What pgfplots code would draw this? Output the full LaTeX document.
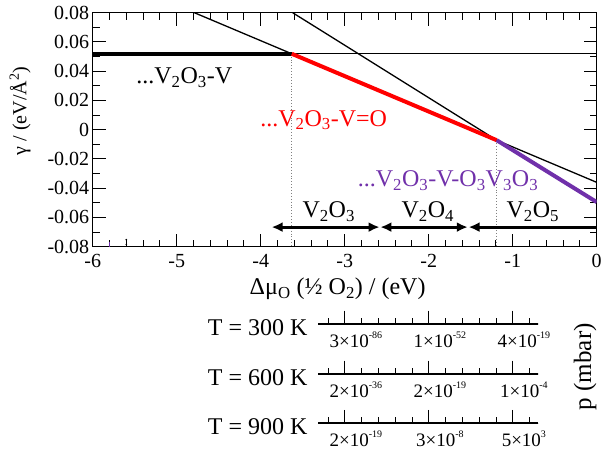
\documentclass[border=0pt]{standalone}
\usepackage{fontspec}
\setmainfont{Liberation Serif}
\usepackage{pgfplots}
\usepackage{pgfplotstable}
\pgfplotsset{compat=1.18}
\usetikzlibrary{arrows.meta}
\definecolor{myred}{RGB}{255,0,0}
\definecolor{mypurple}{RGB}{112,48,170}
\newcommand\ssup[1]{\raisebox{0.5em}{\fontsize{10}{10}\selectfont #1}}
\newcommand\bigf{\fontsize{24}{28}\selectfont}
\pgfplotstableread{
x h
-3.2 6
-3.0 13
-2.8 6
-2.6 6
-2.4 6
-2.2 6
-2.0 13
-1.8 6
-1.6 6
-1.4 6
-1.2 6
-1.0 13
-0.8 6
}\prticks
\begin{document}
\begin{tikzpicture}
\useasboundingbox (-92.7pt,-203.3pt) rectangle (508.3pt,246.7pt);
\begin{axis}[
  at={(0pt,0pt)}, anchor=south west,
  scale only axis, width=504pt, height=234pt,
  xmin=-6, xmax=0, ymin=-0.08, ymax=0.08,
  scaled x ticks=false, scaled y ticks=false,
  xtick={-6,-5,-4,-3,-2,-1,0},
  xticklabels={-6,-5,-4,-3,-2,-1,0},
  minor x tick num=4,
  ytick={-0.08,-0.06,-0.04,-0.02,0,0.02,0.04,0.06,0.08},
  yticklabels={-0.08,-0.06,-0.04,-0.02,0,0.02,0.04,0.06,0.08},
  minor y tick num=1,
  tick align=inside,
  major tick length=13pt, minor tick length=7pt,
  tick style={black, line width=1.1pt},
  axis line style={line width=1.3pt},
  tick label style={font=\fontsize{20}{24}\selectfont},
  x tick label style={yshift=-4pt},
  xlabel={Δμ\textsubscript{O} (½ O\textsubscript{2}) / (eV)},
  ylabel={γ / (eV/Å\textsuperscript{2})},
  xlabel style={font=\bigf, at={(axis description cs:0.486,-0.181)}, anchor=center},
  ylabel style={font=\fontsize{20}{24}\selectfont, at={(axis description cs:-0.144,0.58)}, anchor=center},
]
\addplot[gray, dotted, line width=0.9pt] coordinates {(-3.63,0.0519) (-3.63,-0.08)};
\addplot[gray, dotted, line width=0.9pt] coordinates {(-1.19,-0.0072) (-1.19,-0.08)};
\addplot[black, line width=1.3pt] coordinates {(-3.63,0.0519) (0,0.0519)};
\addplot[black, line width=1.3pt] coordinates {(-4.79,0.08) (0,-0.036)};
\addplot[black, line width=1.3pt] coordinates {(-3.62,0.08) (-1.19,-0.0072)};
\addplot[black, line width=4pt] coordinates {(-6,0.0519) (-3.63,0.0519)};
\addplot[myred, line width=4pt] coordinates {(-3.63,0.0519) (-1.19,-0.0072)};
\addplot[mypurple, line width=4pt] coordinates {(-1.19,-0.0072) (0,-0.0495)};
\addplot[black, line width=3.2pt, {Latex[length=11pt,width=10pt]}-{Latex[length=11pt,width=10pt]}] coordinates {(-3.87,-0.0666) (-2.585,-0.0666)};
\addplot[black, line width=3.2pt, {Latex[length=11pt,width=10pt]}-{Latex[length=11pt,width=10pt]}] coordinates {(-2.575,-0.0666) (-1.535,-0.0666)};
\addplot[black, line width=3.2pt, {Latex[length=11pt,width=10pt]}-] coordinates {(-1.525,-0.0666) (0,-0.0666)};
\addplot[mypurple, line width=1.2pt] coordinates {(-5.8,-0.08) (-5.8,-0.0765)};
\addplot[black, only marks, mark=*, mark size=0.6pt] coordinates {(-5.6,-0.0752) (-5.6,-0.0784)};
\node[font=\bigf] at (axis cs:-4.91,0.0355) {...V\textsubscript{2}O\textsubscript{3}-V};
\node[font=\bigf, text=myred] at (axis cs:-3.25,0.0065) {...V\textsubscript{2}O\textsubscript{3}-V=O};
\node[font=\bigf, text=mypurple] at (axis cs:-1.77,-0.0346) {...V\textsubscript{2}O\textsubscript{3}-V-O\textsubscript{3}V\textsubscript{3}O\textsubscript{3}};
\node[font=\bigf] at (axis cs:-3.19,-0.0562) {V\textsubscript{2}O\textsubscript{3}};
\node[font=\bigf] at (axis cs:-2.01,-0.0562) {V\textsubscript{2}O\textsubscript{4}};
\node[font=\bigf] at (axis cs:-0.76,-0.0562) {V\textsubscript{2}O\textsubscript{5}};
\end{axis}
\pgfplotsset{presaxis/.style={
  x=84pt, y=1pt, anchor=south west,
  xmin=-3.32, xmax=-0.70, ymin=0, ymax=0.5, clip=false,
  hide y axis,
  xtick={-3,-2,-1},
  xtick pos=right, xticklabel pos=left,
  tick align=outside,
  major tick length=13pt, minor tick length=6pt,
  tick style={black, line width=1.1pt},
  axis line style={line width=1.2pt},
  x tick label style={font=\fontsize{19}{22}\selectfont, xshift=11pt, yshift=9pt},
}}
\begin{axis}[presaxis, at={(225.3pt,-77.3pt)},
  xticklabels={3×10\ssup{-86}, 1×10\ssup{-52}, 4×10\ssup{-19}}]
\addplot[ycomb, black, line width=1.1pt, mark=none] table[x=x,y=h] {\prticks};
\node[font=\bigf, anchor=base east, xshift=-7pt, yshift=-11pt] at (rel axis cs:0,0) {T = 300 K};
\end{axis}
\begin{axis}[presaxis, at={(225.3pt,-127.3pt)},
  xticklabels={2×10\ssup{-36}, 2×10\ssup{-19}, 1×10\ssup{-4}}]
\addplot[ycomb, black, line width=1.1pt, mark=none] table[x=x,y=h] {\prticks};
\node[font=\bigf, anchor=base east, xshift=-7pt, yshift=-11pt] at (rel axis cs:0,0) {T = 600 K};
\end{axis}
\begin{axis}[presaxis, at={(225.3pt,-176.6pt)},
  xticklabels={2×10\ssup{-19}, 3×10\ssup{-8}, 5×10\ssup{3}}]
\addplot[ycomb, black, line width=1.1pt, mark=none] table[x=x,y=h] {\prticks};
\node[font=\bigf, anchor=base east, xshift=-7pt, yshift=-11pt] at (rel axis cs:0,0) {T = 900 K};
\end{axis}
\node[rotate=90, font=\fontsize{25}{28}\selectfont] at (492.3pt,-120pt) {p (mbar)};
\end{tikzpicture}
\end{document}
